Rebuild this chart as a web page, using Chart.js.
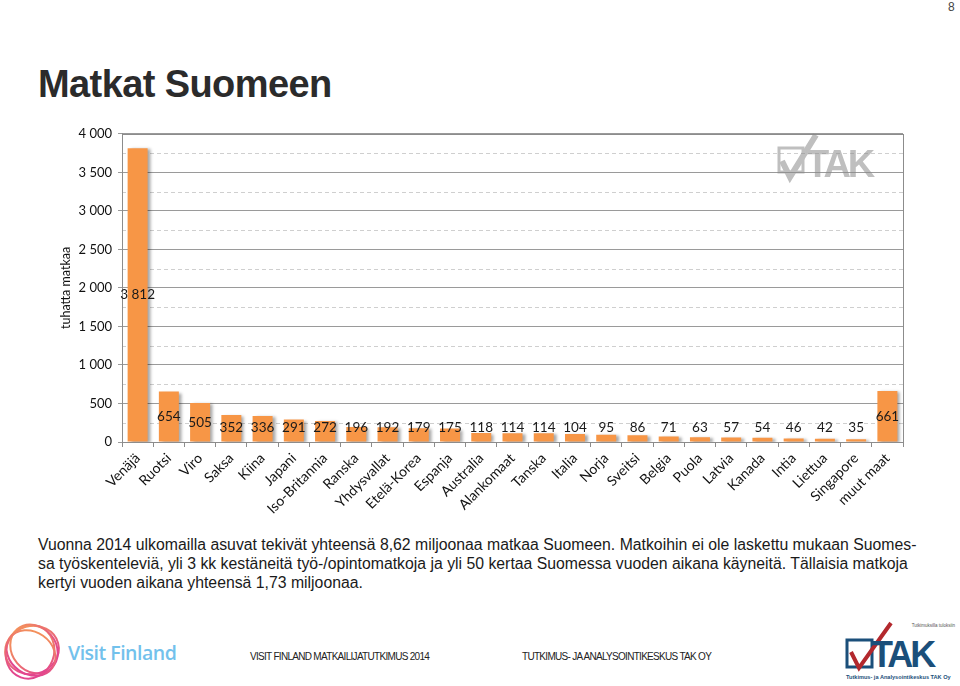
<!DOCTYPE html>
<html>
<head>
<meta charset="utf-8">
<script src="https://cdn.jsdelivr.net/npm/chart.js@4.4.1/dist/chart.umd.min.js"></script>
<style>
  html, body { margin: 0; padding: 0; background: #fff; }
  body { width: 960px; height: 686px; position: relative; overflow: hidden; font-family: Arial, "Liberation Sans", sans-serif; }
  .pagenum { position: absolute; left: 948px; top: 0px; font-size: 12px; color: #444; }
  h1 { position: absolute; left: 38px; top: 63px; margin: 0; font-size: 38px; font-weight: bold; color: #2b2b2b; letter-spacing: -0.6px; }
  #wrap { position: absolute; left: 0; top: 120px; width: 920px; height: 400px; }
  .note { position: absolute; left: 38px; top: 535px; font-size: 15.8px; line-height: 19px; color: #1a1a1a; white-space: nowrap; }
  .foot { position: absolute; top: 651px; font-size: 10px; color: #222; letter-spacing: -0.7px; }
  .wm { position: absolute; left: 776px; top: 133px; opacity: 0.55; }
</style>
</head>
<body>
<div class="pagenum">8</div>
<h1>Matkat Suomeen</h1>
<div id="wrap"><canvas id="chart" width="920" height="400"></canvas></div>
<svg class="wm" width="112" height="52" viewBox="0 0 112 52">
  <rect x="3" y="15" width="24" height="24" fill="none" stroke="#8a8a8a" stroke-width="3"/>
  <path d="M6 28 L14 44 L40 2" fill="none" stroke="#8a8a8a" stroke-width="6"/>
  <text x="30" y="44" font-family="Arial" font-weight="bold" font-size="38" fill="#8a8a8a" letter-spacing="-3">TAK</text>
</svg>
<div class="note">Vuonna 2014 ulkomailla asuvat tekivät yhteensä 8,62 miljoonaa matkaa Suomeen. Matkoihin ei ole laskettu mukaan Suomes-<br>sa työskenteleviä, yli 3 kk kestäneitä työ-/opintomatkoja ja yli 50 kertaa Suomessa vuoden aikana käyneitä. Tällaisia matkoja<br>kertyi vuoden aikana yhteensä 1,73 miljoonaa.</div>

<svg style="position:absolute;left:0;top:616px" width="70" height="66" viewBox="0 0 70 66">
  <defs>
    <linearGradient id="vf" x1="0" y1="0" x2="0.3" y2="1">
      <stop offset="0" stop-color="#f59a55"/>
      <stop offset="1" stop-color="#e2458e"/>
    </linearGradient>
  </defs>
  <g fill="none" stroke="url(#vf)" stroke-width="2">
    <ellipse cx="32" cy="34" rx="27" ry="24" transform="rotate(-15 32 34)"/>
    <ellipse cx="30" cy="36" rx="24" ry="27" transform="rotate(20 30 36)"/>
    <ellipse cx="34" cy="33" rx="22" ry="26" transform="rotate(-40 34 33)"/>
    <ellipse cx="31" cy="37" rx="26" ry="21" transform="rotate(35 31 37)"/>
  </g>
</svg>
<div style="position:absolute;left:68px;top:639px;font-family:'Open Sans',sans-serif;font-size:19.5px;font-weight:600;color:#72c1ec;letter-spacing:-0.5px">Visit Finland</div>
<div class="foot" style="left:250px">VISIT FINLAND MATKAILIJATUTKIMUS 2014</div>
<div class="foot" style="left:522px">TUTKIMUS- JA ANALYSOINTIKESKUS TAK OY</div>
<svg style="position:absolute;left:843px;top:620px" width="117" height="66" viewBox="0 0 117 66">
  <text x="112" y="7" text-anchor="end" font-family="Arial" font-size="4.5" fill="#555">Tutkimuksilla tuloksiin</text>
  <rect x="4" y="20" width="25" height="27" fill="none" stroke="#1b4f7a" stroke-width="3"/>
  <path d="M8 32 L16 48 L48 3" fill="none" stroke="#b3282d" stroke-width="4"/>
  <text x="28" y="47" font-family="Arial" font-weight="bold" font-size="36" fill="#1b4f7a" letter-spacing="-3">TAK</text>
  <text x="3" y="59" font-family="Arial" font-weight="bold" font-size="5.6" fill="#1b4f7a">Tutkimus- ja Analysointikeskus TAK Oy</text>
</svg>

<script>
const categories = ['Venäjä', 'Ruotsi', 'Viro', 'Saksa', 'Kiina', 'Japani', 'Iso-Britannia', 'Ranska', 'Yhdysvallat', 'Etelä-Korea', 'Espanja', 'Australia', 'Alankomaat', 'Tanska', 'Italia', 'Norja', 'Sveitsi', 'Belgia', 'Puola', 'Latvia', 'Kanada', 'Intia', 'Liettua', 'Singapore', 'muut maat']
const trips = [3812, 654, 505, 352, 336, 291, 272, 196, 192, 179, 175, 118, 114, 114, 104, 95, 86, 71, 63, 57, 54, 46, 42, 35, 661]
const yMax = 4000
const yStep = 500
const axisTitle = 'tuhatta matkaa'

const fmt = (v) => String(v).replace(/\B(?=(\d{3})+(?!\d))/g, ' ')
const labelFont = 'Lato, "Open Sans", sans-serif'

// minor dashed lines, plot frame and bar shadow
const decor = {
  id: 'decor',
  beforeDatasetsDraw (chart) {
    const { ctx, chartArea: a, scales: { y } } = chart
    ctx.save()
    ctx.strokeStyle = '#cfcfcf'
    ctx.lineWidth = 1
    ctx.setLineDash([4, 3])
    for (let v = yStep / 2; v < yMax; v += yStep) {
      const py = Math.round(y.getPixelForValue(v)) + 0.5
      ctx.beginPath()
      ctx.moveTo(a.left, py)
      ctx.lineTo(a.right, py)
      ctx.stroke()
    }
    ctx.restore()
    ctx.save()
    ctx.shadowColor = 'rgba(0,0,0,0.35)'
    ctx.shadowOffsetX = 3
    ctx.shadowOffsetY = 1
    ctx.shadowBlur = 3
  },
  afterDatasetsDraw (chart) {
    const { ctx, chartArea: a } = chart
    ctx.restore()
    ctx.save()
    ctx.strokeStyle = '#8c8c8c'
    ctx.lineWidth = 1
    ctx.strokeRect(Math.round(a.left) + 0.5, Math.round(a.top) + 0.5, Math.round(a.right - a.left), Math.round(a.bottom - a.top))
    // value labels
    ctx.fillStyle = '#1a1a1a'
    ctx.font = '13.5px ' + labelFont
    ctx.textAlign = 'center'
    ctx.textBaseline = 'middle'
    chart.getDatasetMeta(0).data.forEach((bar, i) => {
      const cy = Math.min((bar.y + bar.base) / 2, bar.base - 14)
      ctx.fillText(fmt(trips[i]), bar.x, cy)
    })
    ctx.restore()
  }
}

new Chart(document.getElementById('chart'), {
  type: 'bar',
  data: {
    labels: categories,
    datasets: [{
      data: trips,
      backgroundColor: '#f79646',
      borderWidth: 0,
      barPercentage: 0.64,
      categoryPercentage: 1
    }]
  },
  plugins: [decor],
  options: {
    responsive: false,
    animation: false,
    devicePixelRatio: 1,
    layout: { padding: { top: 13, right: 17, left: 58, bottom: 0 } },
    plugins: { legend: { display: false }, tooltip: { enabled: false } },
    scales: {
      x: {
        grid: { offset: true, drawOnChartArea: false, color: '#8c8c8c', tickLength: 5 },
        border: { color: '#8c8c8c' },
        ticks: {
          maxRotation: 45,
          minRotation: 45,
          autoSkip: false,
          color: '#111',
          padding: 3,
          font: { family: labelFont, size: 14 }
        },
        afterFit (scale) { scale.height = 78 }
      },
      y: {
        min: 0,
        max: yMax,
        grid: { color: '#9a9a9a', tickLength: 4 },
        border: { color: '#8c8c8c' },
        ticks: {
          stepSize: yStep,
          color: '#111',
          padding: 6,
          font: { family: labelFont, size: 13 },
          callback: (v) => fmt(v)
        },
        title: {
          display: true,
          text: axisTitle,
          color: '#111',
          padding: { top: 0, bottom: 0 },
          font: { family: labelFont, size: 12.5 }
        },
        afterFit (scale) { scale.width = 64 }
      }
    }
  }
})
</script>
</body>
</html>
